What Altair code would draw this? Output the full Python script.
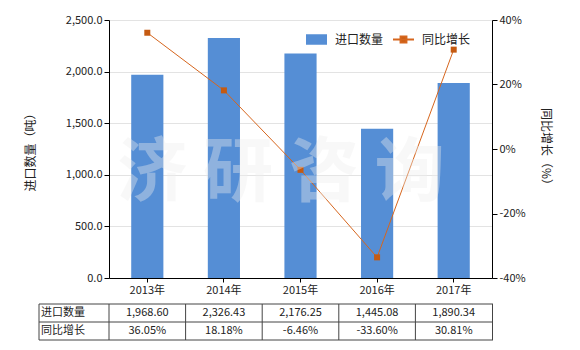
import altair as alt
import pandas as pd

years = ["2013年", "2014年", "2015年", "2016年", "2017年"]
qty = [1968.60, 2326.43, 2176.25, 1445.08, 1890.34]
growth = [36.05, 18.18, -6.46, -33.60, 30.81]

FONT = "Noto Sans CJK SC"
BAR = "#558ED5"
LINE = "#D6661E"
MARK = "#C55A11"

df = pd.DataFrame({
    "year": years,
    "qty": qty,
    "g": [v / 100 for v in growth],
})

one = pd.DataFrame({"a": [0]})

xscale = alt.Scale(paddingInner=0, paddingOuter=0)
xaxis = alt.Axis(labelAngle=0, tickSize=4, domainColor="black", tickColor="black",
                 labelFontSize=11, labelColor="#222", labelPadding=2, grid=False,
                 labelFont=FONT)


def X(**kw):
    return alt.X("year:N", sort=years, scale=xscale, axis=xaxis, title=None, **kw)


bars = alt.Chart(df).mark_bar(width=alt.RelativeBandSize(0.42)).transform_calculate(
    s1="'进口数量'"
).encode(
    x=X(),
    y=alt.Y("qty:Q", scale=alt.Scale(domain=[0, 2500]),
            axis=alt.Axis(format=",.1f", values=[0, 500, 1000, 1500, 2000, 2500],
                          grid=True, gridColor="#e3e3e3", domainColor="black",
                          tickColor="black", tickSize=5, labelFontSize=11,
                          labelColor="#222", labelFont=FONT,
                          title="进口数量（吨）", titleFont=FONT, titleFontSize=12,
                          titleFontWeight="normal", titleColor="#222",
                          titleX=-79, titleY=129, titleAlign="center",
                          titleBaseline="middle", titleAngle=-90)),
    color=alt.Color("s1:N", scale=alt.Scale(domain=["进口数量"], range=[BAR]),
                    legend=alt.Legend(orient="none", legendX=196, legendY=8, title=None,
                                      symbolType="M-1,-0.5H1V0.5H-1Z", symbolSize=441,
                                      labelFontSize=12, labelFont=FONT, labelColor="#222",
                                      labelOffset=7, padding=0)),
)

gy = alt.Y("g:Q", scale=alt.Scale(domain=[-0.4, 0.4]),
           axis=alt.Axis(orient="right", format=".0%", values=[-0.4, -0.2, 0, 0.2, 0.4],
                         labelExpr="replace(datum.label, '\u2212', '-')",
                         grid=False, domainColor="black", tickColor="black", tickSize=5,
                         labelFontSize=11, labelColor="#222", labelFont=FONT,
                         title="同比增长（%）", titleFont=FONT, titleFontSize=12,
                         titleFontWeight="normal", titleColor="#222",
                         titleX=53, titleY=129, titleAlign="center",
                         titleBaseline="middle", titleAngle=90))

line = alt.Chart(df).mark_line(strokeWidth=1).transform_calculate(
    s2="'同比增长'"
).encode(
    x=X(),
    y=gy,
    color=alt.Color("s2:N", scale=alt.Scale(domain=["同比增长"], range=[LINE]),
                    legend=alt.Legend(orient="none", legendX=283, legendY=8, title=None,
                                      symbolType="M-1,0H1M-0.28,-0.28H0.28V0.28H-0.28Z",
                                      symbolSize=441, labelFontSize=12, labelFont=FONT,
                                      labelColor="#222", labelOffset=7, padding=0,
                                      symbolFillColor=MARK, symbolStrokeColor=LINE,
                                      symbolStrokeWidth=2)),
)
pts = alt.Chart(df).mark_point(shape="square", size=36, filled=True, color=MARK,
                               opacity=1).encode(x=X(), y=gy)
linelayer = alt.layer(line, pts)

# table
row1 = alt.Chart(df).mark_text(fontSize=11, font=FONT, color="#222").encode(
    x=X(), y=alt.value(293), text=alt.Text("qty:Q", format=",.2f"))
row2 = alt.Chart(df).transform_calculate(
    gt="replace(format(datum.g, '.2%'), '\u2212', '-')"
).mark_text(fontSize=11, font=FONT, color="#222").encode(
    x=X(), y=alt.value(311), text="gt:N")
lab1 = alt.Chart(one).mark_text(text="进口数量", fontSize=11, font=FONT, color="#222",
                                align="left").encode(x=alt.value(-68), y=alt.value(293))
lab2 = alt.Chart(one).mark_text(text="同比增长", fontSize=11, font=FONT, color="#222",
                                align="left").encode(x=alt.value(-68), y=alt.value(311))
vrules = alt.Chart(df).mark_rule(color="#444", strokeWidth=1).encode(
    x=X(bandPosition=0), y=alt.value(284), y2=alt.value(320))
hr = []
for yy in [284, 302, 320]:
    hr.append(alt.Chart(one).mark_rule(color="#444", strokeWidth=1).encode(
        x=alt.value(-70), x2=alt.value(384), y=alt.value(yy)))
for xx in [-70, 383.5]:
    hr.append(alt.Chart(one).mark_rule(color="#444", strokeWidth=1).encode(
        x=alt.value(xx), y=alt.value(284), y2=alt.value(320)))

watermark = alt.Chart(one).mark_text(text="济 研 咨 询", fontSize=70, fontWeight="bold",
                                     font=FONT, color="#eeeeee", opacity=0.38,
                                     align="center", baseline="middle").encode(
    x=alt.value(172), y=alt.value(155))

chart = alt.layer(
    bars, linelayer, row1, row2, lab1, lab2, vrules, *hr, watermark
).resolve_scale(
    y="independent", color="independent"
).properties(
    width=383, height=258,
    autosize=alt.AutoSizeParams(type="none"),
    padding={"left": 109, "top": 20, "right": 88, "bottom": 72},
    background="white",
).configure_view(stroke=None)

chart.save("out.html", embed_options={"renderer": "svg", "actions": False})
